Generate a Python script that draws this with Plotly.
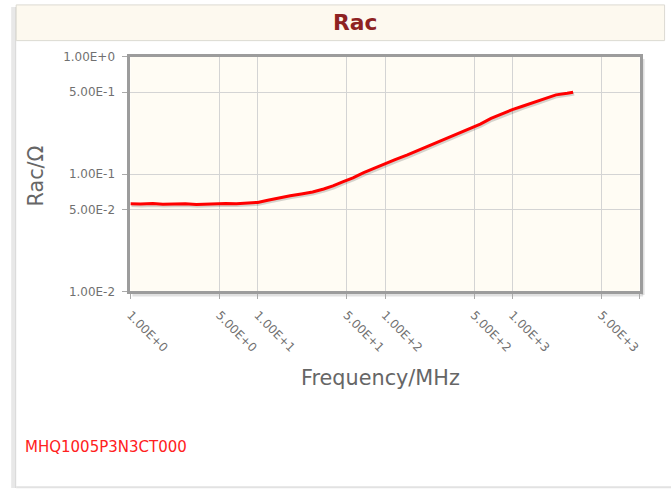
import plotly.graph_objects as go

# ---- data ----
freq_mhz = [1, 1.2, 1.5, 1.8, 2.2, 2.7, 3.3, 3.9, 4.7, 5.6, 6.8, 8.2, 10, 12, 15, 18, 22,
            27, 33, 39, 47, 56, 68, 82, 100, 120, 150, 180, 220, 270, 330, 390, 470, 560,
            680, 820, 1000, 1200, 1500, 1800, 2200, 2700, 3000]
rac_ohm = [0.0560, 0.0556, 0.0562, 0.0555, 0.0558, 0.0561, 0.0553, 0.0557, 0.0559, 0.0564,
           0.0561, 0.0566, 0.0575, 0.0600, 0.0632, 0.0655, 0.0678, 0.0705, 0.0748, 0.0795,
           0.0865, 0.0930, 0.1030, 0.1125, 0.1230, 0.1330, 0.1460, 0.1590, 0.1750, 0.1920,
           0.2110, 0.2270, 0.2480, 0.2680, 0.2990, 0.3250, 0.3560, 0.3800, 0.4110, 0.4400,
           0.4750, 0.4900, 0.5000]

x_tickvals = [1, 5, 10, 50, 100, 500, 1000, 5000, 10000]
x_ticktext = ["1.00E+0", "5.00E+0", "1.00E+1", "5.00E+1", "1.00E+2", "5.00E+2",
              "1.00E+3", "5.00E+3", "1.00E+4"]
y_tickvals = [0.01, 0.05, 0.1, 0.5, 1]
y_ticktext = ["1.00E-2", "5.00E-2", "1.00E-1", "5.00E-1", "1.00E+0"]

chart_title = "Rac"
x_title = "Frequency/MHz"
y_title = "Rac/Ω"
part_name = "MHQ1005P3N3CT000"

W, H = 672, 495
# layout positions are given in target screen pixels and mapped to paper fractions
SX, OX, SY, OY = 0.992, 4.8, 0.980, 5.1
def px(x):
    return ((x - OX) / SX) / W
def py(y):
    return 1 - ((y - OY) / SY) / H
FS = 0.986
def fs(s):
    return s / FS

L, R, T, B = 129.5, 640.0, 55.5, 292.0
FONT = "DejaVu Sans"

fig = go.Figure()
fig.add_trace(go.Scatter(x=[f * 1.02 for f in freq_mhz], y=[v * 0.965 for v in rac_ohm],
                         mode="lines", line=dict(color="rgba(0,0,0,0.16)", width=3),
                         hoverinfo="skip", showlegend=False))
fig.add_trace(go.Scatter(x=freq_mhz, y=rac_ohm, mode="lines",
                         line=dict(color="#ff0000", width=3), showlegend=False))

shapes = [
    dict(type="rect", xref="paper", yref="paper", x0=px(10), x1=px(14), y0=0, y1=1,
         fillcolor="#e8e8e8", line=dict(width=0), layer="below"),
    dict(type="rect", xref="paper", yref="paper", x0=px(14), x1=px(15), y0=0, y1=1,
         fillcolor="#d4d4d4", line=dict(width=0), layer="below"),
    dict(type="rect", xref="paper", yref="paper", x0=px(15), x1=px(665), y0=py(39), y1=py(3),
         fillcolor="#fdf9ef", line=dict(color="#dcdad2", width=1), layer="below"),
    dict(type="line", xref="paper", yref="paper", x0=px(15), x1=1, y0=py(489.5), y1=py(489.5),
         line=dict(color="#e2e2e2", width=2), layer="below"),
    dict(type="line", xref="paper", yref="paper", x0=px(R + 3.5), x1=px(R + 3.5), y0=py(B + 3.5), y1=py(T + 2),
         line=dict(color="rgba(0,0,0,0.12)", width=3), layer="below"),
    dict(type="line", xref="paper", yref="paper", x0=px(L + 2), x1=px(R + 3.5), y0=py(B + 3.5), y1=py(B + 3.5),
         line=dict(color="rgba(0,0,0,0.12)", width=3), layer="below"),
]

annotations = [
    dict(text=f"<b>{chart_title}</b>", xref="paper", yref="paper", x=px(355), y=py(21),
         showarrow=False, font=dict(family=FONT, size=fs(21.5), color="#8e2222"),
         xanchor="center", yanchor="middle"),
    dict(text=x_title, xref="paper", yref="paper", x=px(380), y=py(379),
         showarrow=False, font=dict(family=FONT, size=fs(20.5), color="#666666"),
         xanchor="center", yanchor="middle"),
    dict(text=y_title, xref="paper", yref="paper", x=px(35), y=py(176), textangle=-90,
         showarrow=False, font=dict(family=FONT, size=fs(20.5), color="#666666"),
         xanchor="center", yanchor="middle"),
    dict(text=part_name, xref="paper", yref="paper", x=px(22), y=py(449),
         showarrow=False, font=dict(family=FONT, size=fs(14.8), color="#ff2020"),
         xanchor="left", yanchor="middle"),
]

fig.update_layout(
    width=W, height=H,
    margin=dict(l=0, r=0, t=0, b=0),
    paper_bgcolor="white",
    plot_bgcolor="#fffcf4",
    shapes=shapes,
    annotations=annotations,
    xaxis=dict(type="log", range=[0, 4], domain=[px(L), px(R)],
               tickvals=x_tickvals, ticktext=x_ticktext, tickangle=45,
               tickfont=dict(family=FONT, size=fs(11.8), color="#707070"),
               ticklabelstandoff=4,
               showgrid=True, gridcolor="#d4d4d4", gridwidth=1,
               showline=True, linecolor="#9c9c9c", linewidth=3, mirror=True,
               ticks="outside", ticklen=5, tickcolor="#aaaaaa", zeroline=False),
    yaxis=dict(type="log", range=[-2, 0], domain=[py(B), py(T)],
               tickvals=y_tickvals, ticktext=y_ticktext,
               tickfont=dict(family=FONT, size=fs(11.8), color="#707070"),
               ticklabelstandoff=5,
               showgrid=True, gridcolor="#d4d4d4", gridwidth=1,
               showline=True, linecolor="#9c9c9c", linewidth=3, mirror=True,
               ticks="outside", ticklen=5, tickcolor="#aaaaaa", zeroline=False),
)

post = "document.body.style.margin='0';document.body.style.padding='0';"
fig.write_html("out.html", config={"displayModeBar": False}, post_script=post)
